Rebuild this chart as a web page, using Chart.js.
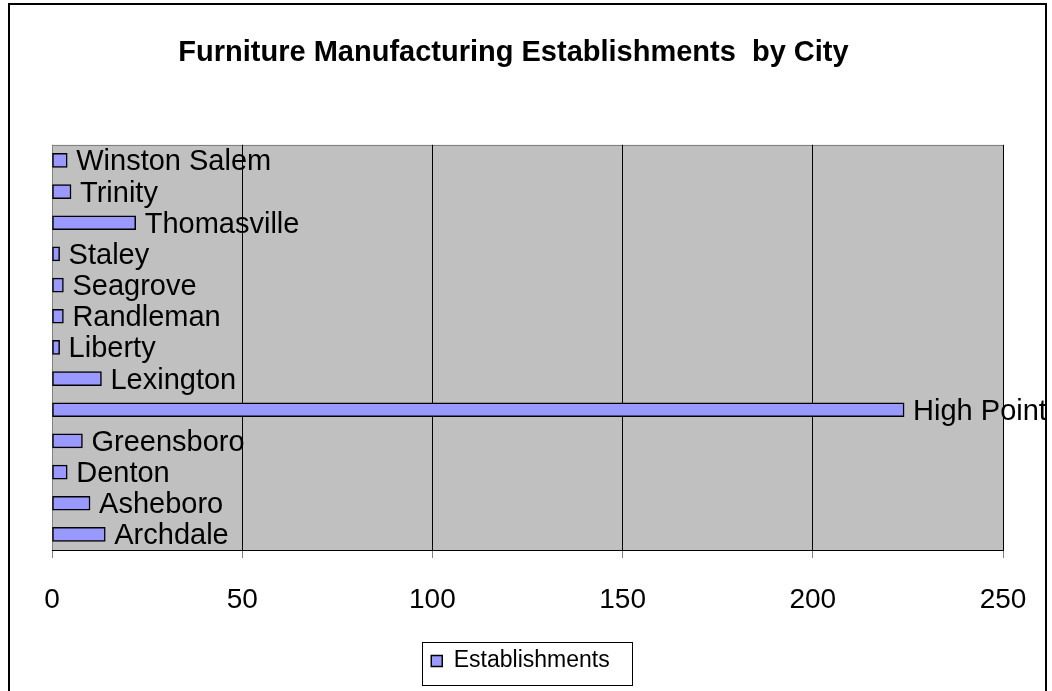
<!DOCTYPE html>
<html><head><meta charset="utf-8">
<script src="https://cdn.jsdelivr.net/npm/chart.js@4/dist/chart.umd.min.js"></script>
<style>html,body{margin:0;padding:0;background:#fff}#wrap{position:relative;width:1052px;height:691px}</style>
</head><body><div id="wrap"><canvas id="c"></canvas></div>
<script>
const cities = ['Winston Salem','Trinity','Thomasville','Staley','Seagrove','Randleman','Liberty','Lexington','High Point','Greensboro','Denton','Asheboro','Archdale'];
const establishments = [4,5,22,2,3,3,2,13,224,8,4,10,14];
const xTicks = [0,50,100,150,200,250];
const seriesName = 'Establishments';
const chartTitle = 'Furniture Manufacturing Establishments  by City';
const FONT = '"Liberation Sans", Arial, sans-serif';

const framePlugin = {
  id: 'frame',
  afterLayout(chart) {
    const t = chart.titleBlock;
    const dx = -14; t.left += dx; t.right += dx;
    const lg = chart.legend;
    const p = lg.options.labels.padding;
    const ih = 23;
    const cur = lg.top + p + ih / 2;
    const dy = 661 - cur; lg.top += dy; lg.bottom += dy;
    lg.left -= 7; lg.right -= 7;
  },
  beforeDraw(chart) {
    const {ctx, chartArea: a} = chart;
    ctx.save();
    ctx.fillStyle = '#fff'; ctx.fillRect(0, 0, chart.width, chart.height);
    ctx.fillStyle = '#C0C0C0'; ctx.fillRect(a.left, a.top, a.right - a.left, a.bottom - a.top);
    ctx.strokeStyle = '#808080'; ctx.lineWidth = 1;
    ctx.strokeRect(Math.round(a.left) + 0.5, Math.round(a.top) + 0.5, Math.round(a.right - a.left), Math.round(a.bottom - a.top));
    ctx.restore();
  },
  afterDraw(chart) {
    const ctx = chart.ctx;
    ctx.save();
    ctx.strokeStyle = '#000'; ctx.lineWidth = 2;
    ctx.strokeRect(9, 4, 1037, 720);
    const hb = chart.legend.legendHitBoxes[0];
    if (hb) {
      ctx.lineWidth = 1;
      ctx.strokeRect(Math.round(hb.left - 9) + 0.5, Math.round(hb.top + hb.height / 2 - 19) + 0.5, 210, 43);
    }
    ctx.restore();
  }
};

const labelPlugin = {
  id: 'barLabels',
  afterDatasetsDraw(chart) {
    const ctx = chart.ctx;
    const meta = chart.getDatasetMeta(0);
    ctx.save();
    ctx.font = '29px ' + FONT;
    ctx.fillStyle = '#000'; ctx.textAlign = 'left'; ctx.textBaseline = 'middle';
    meta.data.forEach((bar, i) => { ctx.fillText(chart.data.labels[i], bar.x + 9, bar.y + 2); });
    ctx.restore();
  }
};

new Chart(document.getElementById('c'), {
  type: 'bar',
  data: {
    labels: cities,
    datasets: [{
      label: seriesName, data: establishments,
      backgroundColor: '#9999FF', borderColor: '#000', borderWidth: 1.5,
      barThickness: 14, borderSkipped: false
    }]
  },
  options: {
    indexAxis: 'y', responsive: true, maintainAspectRatio: false, animation: false,
    layout: {padding: {left: 52, right: 49, top: 0, bottom: 0}},
    scales: {
      x: {
        min: 0, max: 250,
        afterBuildTicks: s => { s.ticks = xTicks.map(v => ({value: v})); },
        grid: {
          color: c => (c.tick && c.tick.value === 0) ? '#808080' : '#000',
          tickColor: '#808080', tickLength: 8
        },
        border: {color: '#000', width: 1},
        ticks: {color: '#000', font: {family: FONT, size: 28}, padding: 25, maxRotation: 0}
      },
      y: {display: false, grid: {display: false}}
    },
    plugins: {
      title: {display: true, text: chartTitle, color: '#000', font: {family: FONT, size: 29, weight: 'bold'}, padding: {top: 36, bottom: 74}},
      legend: {position: 'bottom', labels: {color: '#000', font: {family: FONT, size: 23}, boxWidth: 11, boxHeight: 11, padding: 16.4}},
      tooltip: {enabled: false}
    }
  },
  plugins: [framePlugin, labelPlugin]
});
</script></body></html>
